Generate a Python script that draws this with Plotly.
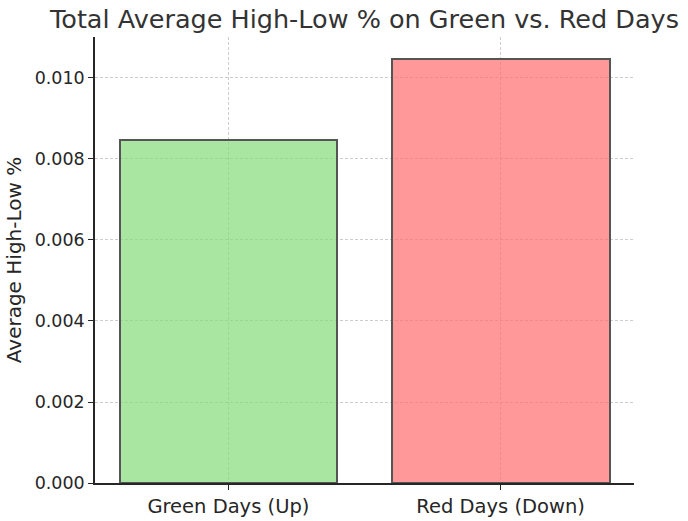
import plotly.graph_objects as go

categories = ["Green Days (Up)", "Red Days (Down)"]
avg_high_low = [0.00847, 0.01047]
bar_colors = ["rgba(131,219,121,0.7)", "rgba(255,109,109,0.7)"]
y_ticks = [0.0, 0.002, 0.004, 0.006, 0.008, 0.010]
y_tick_labels = ["0.000", "0.002", "0.004", "0.006", "0.008", "0.010"]

fig = go.Figure(
    go.Bar(
        x=[0, 1],
        y=avg_high_low,
        width=0.8,
        marker=dict(color=bar_colors, line=dict(color="#555555", width=2)),
    )
)

font = "DejaVu Sans, sans-serif"
fig.update_layout(
    width=688,
    height=521,
    margin=dict(l=95, r=54, t=37, b=38, autoexpand=False),
    plot_bgcolor="white",
    paper_bgcolor="white",
    showlegend=False,
    font=dict(family=font, size=18, color="#262626"),
    title=dict(
        text="Total Average High-Low % on Green vs. Red Days",
        x=0.5,
        xanchor="center",
        xref="paper",
        yref="container",
        y=1 - 19 / 521,
        yanchor="middle",
        font=dict(family=font, size=25.5, color="#333333"),
    ),
    bargap=0,
)
fig.update_xaxes(
    range=[-0.49, 1.49],
    tickvals=[0, 1],
    ticktext=categories,
    showline=True,
    linecolor="#262626",
    linewidth=1.5,
    ticks="outside",
    ticklen=5,
    tickcolor="#262626",
    showgrid=True,
    gridcolor="#cccccc",
    griddash="3px,2px",
    gridwidth=0.8,
    zeroline=False,
    automargin=False,
    tickfont=dict(size=19.5),
)
fig.update_yaxes(
    range=[0, 0.011012],
    tickvals=y_ticks,
    ticktext=y_tick_labels,
    showline=True,
    linecolor="#262626",
    linewidth=1.5,
    ticks="outside",
    ticklen=5,
    tickcolor="#262626",
    showgrid=True,
    gridcolor="#cccccc",
    griddash="3px,2px",
    gridwidth=0.8,
    zeroline=False,
    automargin=False,
    title=dict(text="Average High-Low %", font=dict(size=20), standoff=8),
    tickfont=dict(size=17.5),
)

fig.write_html(
    "out.html",
    config={"displayModeBar": False},
    post_script="document.body.style.margin='0';document.body.style.padding='0';",
)
